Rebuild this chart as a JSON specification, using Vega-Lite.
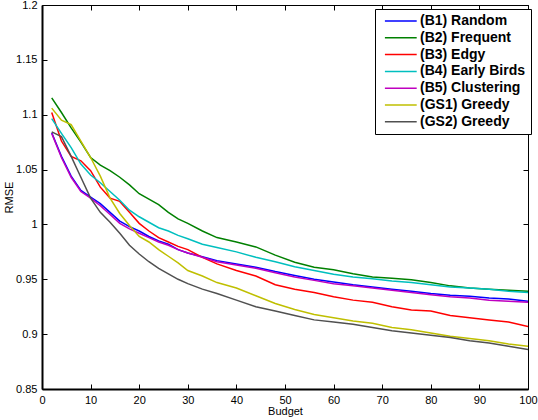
{
  "$schema": "https://vega.github.io/schema/vega-lite/v6.json",
  "width": 486,
  "height": 384,
  "autosize": {"type": "none"},
  "padding": {"left": 42, "top": 5, "right": 10, "bottom": 31},
  "background": "white",
  "config": {
    "font": "Liberation Sans",
    "view": {"stroke": null},
    "axis": {
      "grid": false,
      "domainColor": "black",
      "tickColor": "black",
      "labelColor": "black",
      "titleColor": "black",
      "labelFontSize": 11,
      "titleFontSize": 11,
      "titleFontWeight": "normal",
      "tickSize": -5
    },
    "legend": {
      "strokeColor": "black",
      "fillColor": "white",
      "padding": 5,
      "labelFontSize": 14,
      "labelFontWeight": "bold",
      "labelColor": "black"
    }
  },
  "data": {
    "values": [
      {"b": 2, "(B1) Random": 1.0835, "(B2) Frequent": 1.1153, "(B3) Edgy": 1.102, "(B4) Early Birds": 1.0965, "(B5) Clustering": 1.083, "(GS1) Greedy": 1.106, "(GS2) Greedy": 1.0844},
      {"b": 4, "(B1) Random": 1.062, "(B2) Frequent": 1.102, "(B3) Edgy": 1.076, "(B4) Early Birds": 1.083, "(B5) Clustering": 1.061, "(GS1) Greedy": 1.095, "(GS2) Greedy": 1.080},
      {"b": 6, "(B1) Random": 1.044, "(B2) Frequent": 1.088, "(B3) Edgy": 1.062, "(B4) Early Birds": 1.070, "(B5) Clustering": 1.043, "(GS1) Greedy": 1.091, "(GS2) Greedy": 1.062},
      {"b": 8, "(B1) Random": 1.031, "(B2) Frequent": 1.075, "(B3) Edgy": 1.058, "(B4) Early Birds": 1.055, "(B5) Clustering": 1.030, "(GS1) Greedy": 1.076, "(GS2) Greedy": 1.043},
      {"b": 10, "(B1) Random": 1.025, "(B2) Frequent": 1.061, "(B3) Edgy": 1.049, "(B4) Early Birds": 1.045, "(B5) Clustering": 1.024, "(GS1) Greedy": 1.061, "(GS2) Greedy": 1.024},
      {"b": 12, "(B1) Random": 1.019, "(B2) Frequent": 1.054, "(B3) Edgy": 1.034, "(B4) Early Birds": 1.038, "(B5) Clustering": 1.017, "(GS1) Greedy": 1.044, "(GS2) Greedy": 1.011},
      {"b": 14, "(B1) Random": 1.011, "(B2) Frequent": 1.049, "(B3) Edgy": 1.024, "(B4) Early Birds": 1.030, "(B5) Clustering": 1.009, "(GS1) Greedy": 1.024, "(GS2) Greedy": 1.002},
      {"b": 16, "(B1) Random": 1.003, "(B2) Frequent": 1.043, "(B3) Edgy": 1.021, "(B4) Early Birds": 1.022, "(B5) Clustering": 1.001, "(GS1) Greedy": 1.010, "(GS2) Greedy": 0.992},
      {"b": 18, "(B1) Random": 0.998, "(B2) Frequent": 1.036, "(B3) Edgy": 1.011, "(B4) Early Birds": 1.013, "(B5) Clustering": 0.996, "(GS1) Greedy": 0.999, "(GS2) Greedy": 0.981},
      {"b": 20, "(B1) Random": 0.994, "(B2) Frequent": 1.028, "(B3) Edgy": 1.001, "(B4) Early Birds": 1.007, "(B5) Clustering": 0.992, "(GS1) Greedy": 0.989, "(GS2) Greedy": 0.973},
      {"b": 22, "(B1) Random": 0.989, "(B2) Frequent": 1.023, "(B3) Edgy": 0.994, "(B4) Early Birds": 1.002, "(B5) Clustering": 0.988, "(GS1) Greedy": 0.984, "(GS2) Greedy": 0.966},
      {"b": 24, "(B1) Random": 0.985, "(B2) Frequent": 1.018, "(B3) Edgy": 0.988, "(B4) Early Birds": 0.997, "(B5) Clustering": 0.984, "(GS1) Greedy": 0.977, "(GS2) Greedy": 0.960},
      {"b": 26, "(B1) Random": 0.982, "(B2) Frequent": 1.011, "(B3) Edgy": 0.984, "(B4) Early Birds": 0.994, "(B5) Clustering": 0.981, "(GS1) Greedy": 0.971, "(GS2) Greedy": 0.955},
      {"b": 28, "(B1) Random": 0.977, "(B2) Frequent": 1.005, "(B3) Edgy": 0.980, "(B4) Early Birds": 0.990, "(B5) Clustering": 0.977, "(GS1) Greedy": 0.965, "(GS2) Greedy": 0.950},
      {"b": 30, "(B1) Random": 0.974, "(B2) Frequent": 1.001, "(B3) Edgy": 0.977, "(B4) Early Birds": 0.987, "(B5) Clustering": 0.974, "(GS1) Greedy": 0.958, "(GS2) Greedy": 0.946},
      {"b": 33, "(B1) Random": 0.9705, "(B2) Frequent": 0.994, "(B3) Edgy": 0.970, "(B4) Early Birds": 0.982, "(B5) Clustering": 0.970, "(GS1) Greedy": 0.953, "(GS2) Greedy": 0.941},
      {"b": 36, "(B1) Random": 0.967, "(B2) Frequent": 0.988, "(B3) Edgy": 0.964, "(B4) Early Birds": 0.979, "(B5) Clustering": 0.966, "(GS1) Greedy": 0.947, "(GS2) Greedy": 0.937},
      {"b": 40, "(B1) Random": 0.964, "(B2) Frequent": 0.984, "(B3) Edgy": 0.958, "(B4) Early Birds": 0.975, "(B5) Clustering": 0.963, "(GS1) Greedy": 0.942, "(GS2) Greedy": 0.931},
      {"b": 44, "(B1) Random": 0.961, "(B2) Frequent": 0.9795, "(B3) Edgy": 0.953, "(B4) Early Birds": 0.970, "(B5) Clustering": 0.960, "(GS1) Greedy": 0.935, "(GS2) Greedy": 0.925},
      {"b": 48, "(B1) Random": 0.957, "(B2) Frequent": 0.972, "(B3) Edgy": 0.945, "(B4) Early Birds": 0.966, "(B5) Clustering": 0.956, "(GS1) Greedy": 0.928, "(GS2) Greedy": 0.921},
      {"b": 52, "(B1) Random": 0.9535, "(B2) Frequent": 0.9655, "(B3) Edgy": 0.941, "(B4) Early Birds": 0.9615, "(B5) Clustering": 0.952, "(GS1) Greedy": 0.9225, "(GS2) Greedy": 0.917},
      {"b": 56, "(B1) Random": 0.950, "(B2) Frequent": 0.961, "(B3) Edgy": 0.938, "(B4) Early Birds": 0.958, "(B5) Clustering": 0.949, "(GS1) Greedy": 0.918, "(GS2) Greedy": 0.913},
      {"b": 60, "(B1) Random": 0.9475, "(B2) Frequent": 0.9587, "(B3) Edgy": 0.934, "(B4) Early Birds": 0.9545, "(B5) Clustering": 0.946, "(GS1) Greedy": 0.915, "(GS2) Greedy": 0.911},
      {"b": 64, "(B1) Random": 0.945, "(B2) Frequent": 0.955, "(B3) Edgy": 0.931, "(B4) Early Birds": 0.952, "(B5) Clustering": 0.944, "(GS1) Greedy": 0.912, "(GS2) Greedy": 0.909},
      {"b": 68, "(B1) Random": 0.943, "(B2) Frequent": 0.952, "(B3) Edgy": 0.929, "(B4) Early Birds": 0.9505, "(B5) Clustering": 0.942, "(GS1) Greedy": 0.910, "(GS2) Greedy": 0.906},
      {"b": 72, "(B1) Random": 0.941, "(B2) Frequent": 0.951, "(B3) Edgy": 0.925, "(B4) Early Birds": 0.9485, "(B5) Clustering": 0.940, "(GS1) Greedy": 0.906, "(GS2) Greedy": 0.903},
      {"b": 76, "(B1) Random": 0.939, "(B2) Frequent": 0.9495, "(B3) Edgy": 0.922, "(B4) Early Birds": 0.947, "(B5) Clustering": 0.938, "(GS1) Greedy": 0.904, "(GS2) Greedy": 0.901},
      {"b": 80, "(B1) Random": 0.937, "(B2) Frequent": 0.947, "(B3) Edgy": 0.921, "(B4) Early Birds": 0.945, "(B5) Clustering": 0.936, "(GS1) Greedy": 0.901, "(GS2) Greedy": 0.899},
      {"b": 84, "(B1) Random": 0.9355, "(B2) Frequent": 0.944, "(B3) Edgy": 0.917, "(B4) Early Birds": 0.943, "(B5) Clustering": 0.934, "(GS1) Greedy": 0.898, "(GS2) Greedy": 0.897},
      {"b": 88, "(B1) Random": 0.9345, "(B2) Frequent": 0.942, "(B3) Edgy": 0.915, "(B4) Early Birds": 0.942, "(B5) Clustering": 0.933, "(GS1) Greedy": 0.896, "(GS2) Greedy": 0.894},
      {"b": 92, "(B1) Random": 0.933, "(B2) Frequent": 0.941, "(B3) Edgy": 0.913, "(B4) Early Birds": 0.941, "(B5) Clustering": 0.931, "(GS1) Greedy": 0.894, "(GS2) Greedy": 0.892},
      {"b": 96, "(B1) Random": 0.932, "(B2) Frequent": 0.940, "(B3) Edgy": 0.911, "(B4) Early Birds": 0.939, "(B5) Clustering": 0.930, "(GS1) Greedy": 0.891, "(GS2) Greedy": 0.889},
      {"b": 100, "(B1) Random": 0.930, "(B2) Frequent": 0.939, "(B3) Edgy": 0.907, "(B4) Early Birds": 0.938, "(B5) Clustering": 0.929, "(GS1) Greedy": 0.889, "(GS2) Greedy": 0.886}
    ]
  },
  "transform": [
    {"fold": ["(B1) Random", "(B2) Frequent", "(B3) Edgy", "(B4) Early Birds", "(B5) Clustering", "(GS1) Greedy", "(GS2) Greedy"], "as": ["method", "rmse"]}
  ],
  "layer": [
    {
      "mark": {"type": "line", "strokeWidth": 1.5, "clip": true},
      "encoding": {
        "x": {
          "field": "b", "type": "quantitative", "title": "Budget",
          "scale": {"domain": [0, 100], "nice": false},
          "axis": {"values": [0, 10, 20, 30, 40, 50, 60, 70, 80, 90, 100], "labelPadding": 10, "titlePadding": 0, "domainWidth": 2, "labelFlush": false}
        },
        "y": {
          "field": "rmse", "type": "quantitative", "title": "RMSE",
          "scale": {"domain": [0.85, 1.2], "nice": false, "zero": false},
          "axis": {"values": [0.85, 0.9, 0.95, 1, 1.05, 1.1, 1.15, 1.2], "format": ".2~f", "labelPadding": 10, "titlePadding": 1, "domainWidth": 2, "labelFlush": false}
        },
        "color": {
          "field": "method", "type": "nominal", "title": null,
          "scale": {
            "domain": ["(B1) Random", "(B2) Frequent", "(B3) Edgy", "(B4) Early Birds", "(B5) Clustering", "(GS1) Greedy", "(GS2) Greedy"],
            "range": ["#0000ff", "#008000", "#ff0000", "#00bfbf", "#bf00bf", "#bfbf00", "#505050"]
          },
          "legend": {
            "orient": "none", "legendX": 333, "legendY": 4,
            "symbolType": "M-0.5,0H7.1", "symbolSize": 70, "symbolStrokeWidth": 1.5,
            "labelOffset": 26, "rowPadding": 2.8
          }
        }
      }
    },
    {
      "mark": {"type": "line", "opacity": 0},
      "encoding": {
        "x": {
          "field": "b", "type": "quantitative",
          "scale": {"domain": [0, 100], "nice": false},
          "axis": {"orient": "top", "values": [0, 10, 20, 30, 40, 50, 60, 70, 80, 90, 100], "labels": false, "title": null}
        },
        "y": {
          "field": "rmse", "type": "quantitative",
          "scale": {"domain": [0.85, 1.2], "nice": false, "zero": false},
          "axis": {"orient": "right", "values": [0.85, 0.9, 0.95, 1, 1.05, 1.1, 1.15, 1.2], "labels": false, "title": null}
        },
        "detail": {"field": "method"}
      }
    }
  ],
  "resolve": {"axis": {"x": "independent", "y": "independent"}}
}
